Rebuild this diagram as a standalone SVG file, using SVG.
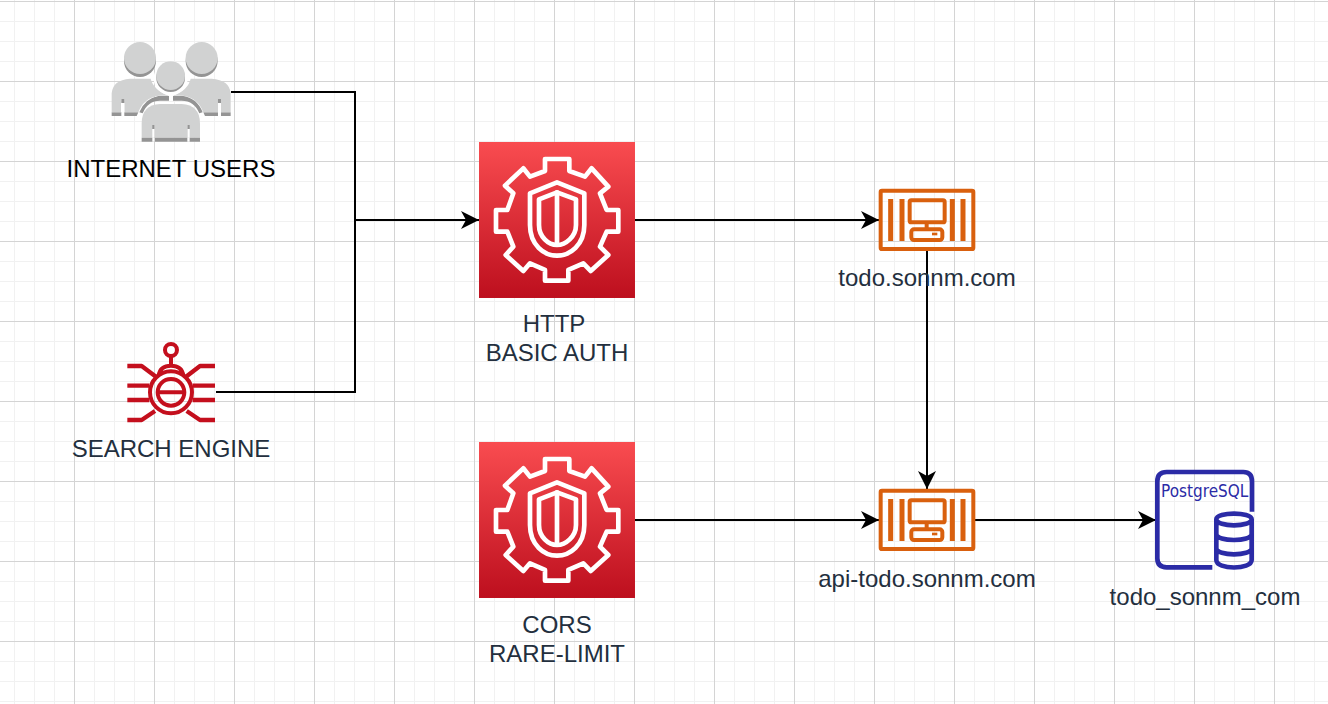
<svg xmlns="http://www.w3.org/2000/svg" width="1328" height="704" viewBox="0 0 1328 704">
<style>
.t{font-family:"Liberation Sans",Arial,sans-serif;font-size:24px;fill:#232f3e;text-anchor:middle}
.c{fill:none;stroke:#000;stroke-width:2}
.minor{stroke:#f1f1f1;stroke-width:1;fill:none}
.major{stroke:#d4d4d4;stroke-width:1;fill:none}
.w{fill:none;stroke:#fff;stroke-width:14;stroke-linejoin:round;stroke-linecap:round}
.o{fill:none;stroke:#d9600e;stroke-width:12;stroke-linejoin:round}
.r{fill:none;stroke:#c40f1d;stroke-width:12;stroke-linejoin:round}
.p{fill:none;stroke:#2b2ba6;stroke-width:14;stroke-linejoin:round}
</style>
<defs>
<linearGradient id="red" x1="0" y1="1" x2="0" y2="0"><stop offset="0" stop-color="#bd0f1e"/><stop offset="1" stop-color="#f94c50"/></linearGradient>
<marker id="arrow" markerUnits="userSpaceOnUse" markerWidth="20" markerHeight="20" refX="18" refY="9" orient="auto"><path d="M0,0 L18,9 L0,18 L5,9 Z" fill="#000"/></marker>
<g id="waf">
<rect x="27" y="21" width="468" height="468" fill="url(#red)"/>
<path class="w" d="M225,72H298V108L345,125L365,100L415,155L390,175L410,225H445V290H410L390,335L415,360L362,408L340,385L295,405V437H225V405L180,385L160,408L107,360L130,335L112,290H78V225H112L130,175L105,152L160,100L180,125L225,108Z"/>
<path class="w" d="M261,142L343,175V270C343,330 300,362 261,362C222,362 180,330 180,270V175Z"/>
<path class="w" d="M261,172L207,193V270C207,305 235,330 261,330C287,330 318,305 318,270V193Z"/>
<path class="w" d="M261,172V328"/>
</g>
<g id="inst">
<rect class="o" x="62" y="32" width="278" height="175" rx="4"/>
<path class="o" style="stroke-width:15" d="M92,57V183M126,57V183M277,57V183M309,57V183"/>
<rect class="o" x="149" y="61" width="105" height="66" rx="5"/>
<path class="o" d="M200,127V148"/>
<rect class="o" x="154" y="148" width="93" height="32" rx="8"/>
<rect x="216" y="158" width="16" height="8" fill="#d9600e"/>
</g>
</defs>
<rect width="1328" height="704" fill="#fff"/>
<g id="grid">
<path class="minor" d="M14.5,0V704M34.5,0V704M54.5,0V704M94.5,0V704M114.5,0V704M134.5,0V704M174.5,0V704M194.5,0V704M214.5,0V704M254.5,0V704M274.5,0V704M294.5,0V704M334.5,0V704M354.5,0V704M374.5,0V704M414.5,0V704M434.5,0V704M454.5,0V704M494.5,0V704M514.5,0V704M534.5,0V704M574.5,0V704M594.5,0V704M614.5,0V704M654.5,0V704M674.5,0V704M694.5,0V704M734.5,0V704M754.5,0V704M774.5,0V704M814.5,0V704M834.5,0V704M854.5,0V704M894.5,0V704M914.5,0V704M934.5,0V704M974.5,0V704M994.5,0V704M1014.5,0V704M1054.5,0V704M1074.5,0V704M1094.5,0V704M1134.5,0V704M1154.5,0V704M1174.5,0V704M1214.5,0V704M1234.5,0V704M1254.5,0V704M1294.5,0V704M1314.5,0V704"/>
<path class="minor" d="M0,21.5H1328M0,41.5H1328M0,61.5H1328M0,101.5H1328M0,121.5H1328M0,141.5H1328M0,181.5H1328M0,201.5H1328M0,221.5H1328M0,261.5H1328M0,281.5H1328M0,301.5H1328M0,341.5H1328M0,361.5H1328M0,381.5H1328M0,421.5H1328M0,441.5H1328M0,461.5H1328M0,501.5H1328M0,521.5H1328M0,541.5H1328M0,581.5H1328M0,601.5H1328M0,621.5H1328M0,661.5H1328M0,681.5H1328M0,701.5H1328"/>
<path class="major" d="M74.5,0V704M154.5,0V704M234.5,0V704M314.5,0V704M394.5,0V704M474.5,0V704M554.5,0V704M634.5,0V704M714.5,0V704M794.5,0V704M874.5,0V704M954.5,0V704M1034.5,0V704M1114.5,0V704M1194.5,0V704M1274.5,0V704"/>
<path class="major" d="M0,1.5H1328M0,81.5H1328M0,161.5H1328M0,241.5H1328M0,321.5H1328M0,401.5H1328M0,481.5H1328M0,561.5H1328M0,641.5H1328"/>
</g>
<g id="connectors">
<path class="c" d="M231,92H355V220H479" marker-end="url(#arrow)"/>
<path class="c" d="M216,392H355V220"/>
<path class="c" d="M635,220H879" marker-end="url(#arrow)"/>
<path class="c" d="M927,250V489" marker-end="url(#arrow)"/>
<path class="c" d="M635,520H879" marker-end="url(#arrow)"/>
<path class="c" d="M975,520H1156" marker-end="url(#arrow)"/>
</g>
<g id="internet-users">
<g transform="translate(100 30) scale(.3333)">
<path fill="#949494" d="M35,258V247H115L110,258ZM207,212V198H175Q135,205 118,247L128,250Q143,212 180,212ZM219,212V198H250Q292,205 308,247L298,250Q283,212 245,212ZM392,258V247H310L315,258Z"/>
<path fill="#d1d2d2" d="M35,247V190Q38,150 90,146H152Q160,180 207,197H175Q130,205 115,247H73V207H63V247ZM392,247V190Q389,150 335,146H272Q265,180 219,197H250Q295,205 310,247H363V207H353V247Z"/>
<path fill="#949494" d="M64,207h9v12h-9zM354,207h9v12h-9z"/>
<path fill="#fff" d="M64,219h9v39h-9zM354,219h9v39h-9z"/>
<circle cx="120" cy="93" r="48" fill="#949494"/><circle cx="120" cy="84" r="48" fill="#d1d2d2"/>
<circle cx="305" cy="93" r="48" fill="#949494"/><circle cx="305" cy="84" r="48" fill="#d1d2d2"/>
<circle cx="212" cy="145" r="51" fill="#fff"/>
<circle cx="212" cy="143" r="43" fill="#949494"/><circle cx="212" cy="137" r="43" fill="#d1d2d2"/>
<path fill="#d1d2d2" d="M125,323V280Q125,225 180,222H245Q300,225 300,280V323Z"/>
<path fill="#949494" d="M125,323H300V335H125Z"/>
<path fill="#fff" d="M157,323h7v12h-7zM262,323h7v12h-7z"/>
<path fill="#949494" d="M157,285h6v12h-6zM263,285h6v12h-6z"/>
<path fill="#fff" d="M157,297h6v26h-6zM263,297h6v26h-6z"/>
</g>
<text class="t" x="171" y="177" style="fill:#000">INTERNET USERS</text>
</g>
<g id="search-engine">
<g transform="translate(110 335) scale(.3333)">
<circle class="r" cx="183" cy="172" r="63"/>
<circle class="r" cx="183" cy="172" r="40"/>
<path class="r" d="M145,172H222M146,122Q150,92 183,92Q216,92 220,122M183,63V92"/>
<circle class="r" cx="183" cy="45" r="18"/>
<path class="r" style="stroke-width:13" d="M52,93H95L138,125M52,152H118M52,195H118M52,255H95L135,228M315,93H270L228,125M315,152H248M315,195H248M315,255H270L230,228"/>
</g>
<text class="t" x="171" y="457">SEARCH ENGINE</text>
</g>
<g id="http-basic-auth">
<use href="#waf" transform="translate(470 135) scale(.3333)"/>
<text class="t" x="554" y="332">HTTP</text>
<text class="t" x="557" y="361">BASIC AUTH</text>
</g>
<g id="cors-rate-limit">
<use href="#waf" transform="translate(470 435) scale(.3333)"/>
<text class="t" x="557" y="633">CORS</text>
<text class="t" x="557" y="662">RARE-LIMIT</text>
</g>
<g id="todo">
<use href="#inst" transform="translate(860 180) scale(.3333)"/>
<text class="t" x="927" y="286">todo.sonnm.com</text>
</g>
<g id="api-todo">
<use href="#inst" transform="translate(860 480) scale(.3333)"/>
<text class="t" x="927" y="587">api-todo.sonnm.com</text>
</g>
<g id="postgresql">
<g transform="translate(1130 460) scale(.3333)">
<path class="p" d="M247,322H110Q82,322 82,295V64Q82,36 110,36H340Q366,36 366,64V155"/>
<path class="p" d="M259,178C259,155 365,155 365,178V300C365,330 259,330 259,300ZM259,178C259,202 365,202 365,178M259,222C259,246 365,246 365,222M259,265C259,289 365,289 365,265" fill="#fff"/>
<text x="93" y="110" textLength="262" lengthAdjust="spacingAndGlyphs" style="font-family:'DejaVu Sans',sans-serif;font-size:52px;fill:#2b2ba6">PostgreSQL</text>
</g>
<text class="t" x="1205" y="605">todo_sonnm_com</text>
</g>
</svg>
